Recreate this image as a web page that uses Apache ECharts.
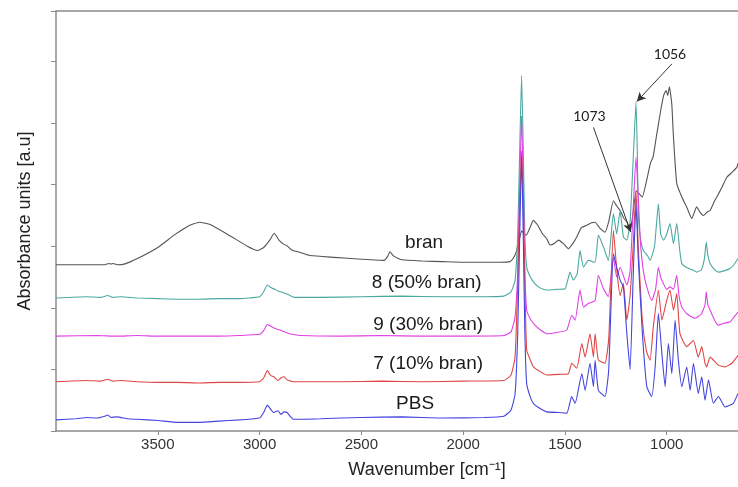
<!DOCTYPE html>
<html><head><meta charset="utf-8">
<script src="https://cdn.jsdelivr.net/npm/echarts@6/dist/echarts.min.js"></script>
<style>html,body{margin:0;padding:0;background:#fff}#c{width:738px;height:487px}</style>
</head><body><div id="c"></div>
<script>
const xTicks = [3500, 3000, 2500, 2000, 1500, 1000];
const seriesNames = ['bran', '8 (50% bran)', '9 (30% bran)', '7 (10% bran)', 'PBS'];
const seriesColors = ['#555555', '#4aa8a0', '#e040e6', '#e04545', '#4444e0'];

// bran
const branWn  = [4000,3760,3740,3730,3720,3700,3665,3600,3500,3420,3350,3296,3240,3150,3060,3010,2980,2950,2928,2905,2880,2866,2842,2800,2752,2634,2500,2389,2370,2360,2341,2300,2200,2100,2000,1900,1818,1770,1755,1740,1725,1712,1700,1690,1672,1655,1635,1610,1589,1573,1550,1532,1510,1483,1460,1442,1420,1393,1370,1352,1330,1303,1285,1262,1245,1229,1210,1196,1180,1165,1150,1135,1120,1100,1080,1067,1050,1030,1015,1003,995,987,975,968,951,926,900,877,853,836,820,800,787,763,754,730,705,680,656,650];
const branAbs = [2.70,2.70,2.72,2.71,2.72,2.70,2.71,2.80,2.98,3.18,3.33,3.39,3.35,3.18,3.00,2.93,2.98,3.10,3.21,3.10,3.03,3.01,2.94,2.90,2.85,2.82,2.79,2.77,2.84,2.91,2.84,2.78,2.76,2.75,2.74,2.74,2.74,2.75,2.80,2.90,3.10,3.25,3.20,3.18,3.30,3.42,3.35,3.20,3.12,3.02,3.05,3.10,3.05,2.96,3.05,3.15,3.30,3.34,3.38,3.39,3.30,3.23,3.40,3.74,3.65,3.58,3.45,3.40,3.25,3.55,3.90,3.85,3.80,4.05,4.35,4.45,4.80,5.20,5.45,5.53,5.45,5.59,5.30,4.83,4.02,3.80,3.62,3.45,3.64,3.55,3.50,3.56,3.58,3.75,3.80,3.95,4.12,4.20,4.28,4.35];

// 8 (50% bran)
const s8Wn  = [4000,3850,3780,3746,3720,3680,3600,3500,3400,3300,3200,3100,3000,2980,2962,2945,2925,2906,2885,2870,2850,2830,2700,2500,2300,2100,1900,1800,1765,1745,1732,1722,1713,1705,1697,1688,1670,1647,1620,1589,1540,1499,1475,1459,1440,1426,1409,1385,1352,1336,1311,1287,1262,1246,1229,1213,1196,1180,1165,1151,1145,1139,1128,1115,1095,1082,1060,1041,1030,1016,1000,984,967,951,935,926,900,869,853,830,815,806,798,787,765,746,720,689,670,650];
const s8Abs = [2.16,2.18,2.17,2.20,2.17,2.18,2.16,2.15,2.14,2.14,2.15,2.15,2.18,2.26,2.37,2.33,2.30,2.27,2.25,2.23,2.20,2.17,2.17,2.18,2.19,2.18,2.18,2.19,2.26,2.45,3.20,4.60,5.77,4.60,3.20,2.66,2.50,2.39,2.32,2.29,2.30,2.31,2.58,2.45,2.55,2.93,2.66,2.77,2.74,3.18,2.99,2.77,3.53,3.20,3.58,3.15,3.10,3.40,4.40,5.34,4.60,3.47,3.10,2.93,2.85,2.77,3.00,3.69,3.20,3.10,3.20,3.37,3.04,3.37,2.90,2.72,2.65,2.61,2.58,2.62,2.80,3.07,2.85,2.72,2.62,2.58,2.60,2.64,2.70,2.80];

// 9 (30% bran)
const s9Wn  = [4000,3800,3700,3600,3500,3400,3300,3200,3100,3000,2980,2962,2945,2920,2900,2870,2842,2800,2600,2400,2200,2000,1800,1765,1745,1732,1722,1713,1705,1697,1688,1670,1647,1620,1589,1540,1491,1467,1450,1426,1409,1385,1352,1336,1311,1287,1262,1246,1229,1196,1180,1165,1151,1140,1130,1115,1098,1074,1055,1041,1030,1016,1000,984,967,951,940,926,900,861,830,812,806,798,787,765,746,720,689,670,650];
const s9Abs = [1.54,1.55,1.54,1.55,1.54,1.54,1.54,1.54,1.55,1.57,1.63,1.73,1.70,1.66,1.64,1.60,1.57,1.55,1.54,1.55,1.54,1.54,1.55,1.61,1.85,2.60,4.00,5.12,4.00,2.60,1.96,1.82,1.72,1.64,1.58,1.60,1.64,1.88,1.80,2.29,2.01,2.07,2.12,2.53,2.31,2.18,2.82,2.50,2.66,2.37,2.60,3.60,4.45,3.80,3.10,2.60,2.34,2.12,2.30,2.66,2.50,2.39,2.30,2.34,2.30,2.53,2.20,2.01,1.90,1.83,1.90,2.05,2.26,2.05,1.96,1.80,1.72,1.75,1.77,1.85,1.93];

// 7 (10% bran)
const s7Wn  = [4000,3850,3780,3746,3720,3680,3600,3500,3400,3300,3200,3100,3000,2980,2962,2945,2930,2910,2895,2880,2865,2855,2840,2800,2600,2400,2200,2000,1800,1765,1745,1732,1722,1713,1705,1697,1688,1670,1655,1620,1589,1530,1483,1467,1442,1417,1401,1377,1360,1352,1336,1303,1285,1262,1245,1229,1213,1196,1180,1165,1151,1140,1120,1100,1082,1066,1041,1024,1000,984,967,951,935,902,869,845,828,812,804,787,746,714,680,650];
const s7Abs = [0.80,0.82,0.81,0.84,0.81,0.82,0.80,0.79,0.79,0.78,0.79,0.79,0.80,0.86,0.98,0.90,0.88,0.82,0.86,0.88,0.83,0.82,0.80,0.80,0.80,0.81,0.80,0.81,0.82,0.91,1.20,2.40,3.70,4.55,3.70,2.40,1.31,1.15,1.04,0.96,0.91,0.92,0.93,1.10,1.02,1.42,1.20,1.58,1.20,1.58,1.15,1.10,1.50,3.26,2.60,2.20,2.40,1.80,2.20,3.00,3.90,3.00,1.80,1.30,1.15,1.69,2.29,1.80,2.12,2.29,1.96,2.23,1.58,1.37,1.47,1.20,1.37,1.10,1.04,1.20,1.07,1.04,1.10,1.23];

// PBS
const pbsWn  = [4000,3900,3850,3800,3760,3746,3730,3700,3650,3600,3500,3400,3300,3200,3100,3000,2980,2962,2945,2930,2910,2895,2880,2865,2850,2835,2700,2500,2300,2100,1900,1800,1765,1745,1732,1722,1713,1705,1697,1688,1670,1655,1620,1589,1530,1491,1467,1450,1417,1401,1377,1360,1352,1336,1303,1285,1262,1246,1229,1213,1196,1180,1165,1151,1140,1120,1098,1074,1057,1041,1024,1008,992,975,959,943,926,902,885,869,845,828,812,795,771,746,714,673,650];
const pbsAbs = [0.18,0.20,0.22,0.21,0.24,0.26,0.22,0.23,0.20,0.19,0.17,0.14,0.14,0.16,0.18,0.21,0.30,0.42,0.35,0.30,0.33,0.27,0.31,0.30,0.24,0.19,0.20,0.22,0.23,0.21,0.22,0.24,0.34,0.60,1.60,3.20,4.45,3.20,1.60,0.77,0.55,0.45,0.36,0.31,0.30,0.29,0.56,0.45,0.93,0.66,1.10,0.72,1.15,0.66,0.56,1.00,2.88,2.66,2.45,2.34,1.58,1.00,2.50,3.70,2.80,1.60,0.72,0.56,1.04,1.91,1.26,0.72,1.42,0.93,1.80,1.15,0.72,1.04,0.66,1.10,0.61,0.88,0.50,0.83,0.45,0.56,0.39,0.45,0.61];

const labelPos = [[2192, 3.05], [2179, 2.40], [2172, 1.72], [2172, 1.09], [2236, 0.45]];
const annTexts = ['1056', '1073'];
const annTextPos = [[984, 6.11], [1380, 5.11]];
const annFrom = [[975, 5.96], [1360, 4.93]];
const annTo = [[1147, 5.35], [1177, 3.23]];

const wnArrays = [branWn, s8Wn, s9Wn, s7Wn, pbsWn];
const absArrays = [branAbs, s8Abs, s9Abs, s7Abs, pbsAbs];

const FONT = '"Liberation Sans", Arial, sans-serif';
const chart = echarts.init(document.getElementById('c'), null, {renderer: 'canvas'});

const series = seriesNames.map((n, i) => ({
  name: n, type: 'line', showSymbol: false, symbol: 'none', smooth: 0.15,
  data: wnArrays[i].map((w, k) => [w, absArrays[i][k]]),
  lineStyle: {color: seriesColors[i], width: 1.1},
  itemStyle: {color: seriesColors[i]},
  z: 2 + i, animation: false
}));

series.push({
  type: 'scatter', data: [], animation: false, silent: true,
  markPoint: {
    symbol: 'circle', symbolSize: 0, animation: false,
    data: seriesNames.map((n, i) => ({coord: labelPos[i], value: n}))
      .concat(annTexts.map((t, i) => ({coord: annTextPos[i], value: t,
        label: {fontFamily: 'Lato, "Open Sans", sans-serif', fontSize: 14, color: '#222'}}))),
    label: {show: true, position: 'inside', formatter: p => p.value,
      fontFamily: FONT, fontSize: 19, color: '#1a1a1a'}
  },
  markLine: {
    silent: true, animation: false, symbol: ['none', 'arrow'], symbolSize: [7, 9],
    lineStyle: {color: '#333', width: 1, type: 'solid'},
    label: {show: false},
    data: annFrom.map((f, i) => [{coord: f}, {coord: annTo[i]}])
  }
});

chart.setOption({
  animation: false,
  grid: {left: 56, right: 0, top: 11, bottom: 56},
  xAxis: [{
    type: 'value', inverse: true, min: 650, max: 4000,
    name: 'Wavenumber [cm⁻¹]', nameLocation: 'middle', nameGap: 30,
    nameTextStyle: {fontFamily: FONT, fontSize: 18, color: '#222', padding: [0, 0, 0, 60]},
    axisLine: {lineStyle: {color: '#8a8a8a', width: 1.5}},
    axisTick: {show: true, inside: false, length: 4, customValues: xTicks, lineStyle: {color: '#8a8a8a'}},
    axisLabel: {customValues: xTicks, formatter: v => String(v), fontFamily: FONT, fontSize: 15, color: '#333', margin: 6},
    splitLine: {show: false}
  }, {
    type: 'value', inverse: true, min: 650, max: 4000, position: 'top',
    axisLine: {show: true, lineStyle: {color: '#8a8a8a', width: 1.5}},
    axisTick: {show: false}, axisLabel: {show: false}, splitLine: {show: false}
  }],
  yAxis: {
    type: 'value', min: 0, max: 6.82, interval: 1,
    name: 'Absorbance units [a.u]', nameLocation: 'middle', nameGap: 22, nameRotate: 90,
    nameTextStyle: {fontFamily: FONT, fontSize: 18, color: '#222'},
    axisLine: {show: true, lineStyle: {color: '#8a8a8a', width: 1.5}},
    axisTick: {show: true, inside: false, length: 5, lineStyle: {color: '#8a8a8a'}},
    axisLabel: {show: false}, splitLine: {show: false}
  },
  series: series
});
</script></body></html>
